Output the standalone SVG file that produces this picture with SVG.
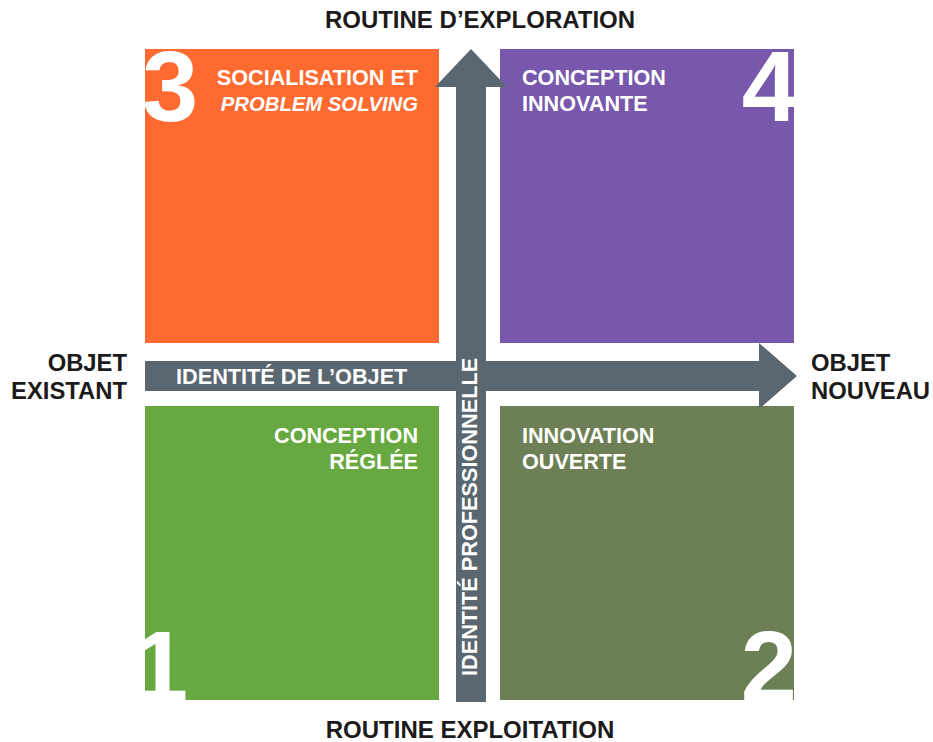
<svg xmlns="http://www.w3.org/2000/svg" width="933" height="742" viewBox="0 0 933 742">
<style>
.lbl{font-family:"Liberation Sans",Arial,sans-serif;font-weight:bold;font-size:21.6px;fill:#ffffff}
.it{font-style:italic;font-size:20.3px}
.ax{font-family:"Liberation Sans",Arial,sans-serif;font-weight:bold;font-size:23.8px;fill:#1c1a1a}
.ttl{font-family:"Liberation Sans",Arial,sans-serif;font-weight:bold;font-size:24px;fill:#1c1a1a}
.num{font-family:"Liberation Sans",Arial,sans-serif;font-weight:bold;font-size:101px;fill:#ffffff}
.bar{fill:#5b6770}
.barlbl{font-family:"Liberation Sans",Arial,sans-serif;font-weight:bold;font-size:21.7px;fill:#ffffff}
</style>
<defs>
<clipPath id="c3"><rect x="145" y="49" width="294" height="294"/></clipPath>
<clipPath id="c4"><rect x="500" y="49" width="294" height="294"/></clipPath>
<clipPath id="c1"><rect x="145" y="406" width="294" height="294"/></clipPath>
<clipPath id="c2"><rect x="500" y="406" width="294" height="294"/></clipPath>
</defs>
<rect width="933" height="742" fill="#ffffff"/>

<g id="q3">
<rect x="145" y="49" width="294" height="294" fill="#fe6a2f"/>
<text class="num" x="142" y="121" clip-path="url(#c3)">3</text>
<text class="lbl" x="418" y="85" text-anchor="end">SOCIALISATION ET</text>
<text class="lbl it" x="418" y="111" text-anchor="end">PROBLEM SOLVING</text>
</g>
<g id="q4">
<rect x="500" y="49" width="294" height="294" fill="#7858ac"/>
<text class="num" x="798" y="121" text-anchor="end" clip-path="url(#c4)">4</text>
<text class="lbl" x="522" y="85">CONCEPTION</text>
<text class="lbl" x="522" y="111">INNOVANTE</text>
</g>
<g id="q1">
<rect x="145" y="406" width="294" height="294" fill="#67a940"/>
<text class="num" x="132" y="701" clip-path="url(#c1)">1</text>
<text class="lbl" x="418" y="443" text-anchor="end">CONCEPTION</text>
<text class="lbl" x="418" y="469" text-anchor="end">RÉGLÉE</text>
</g>
<g id="q2">
<rect x="500" y="406" width="294" height="294" fill="#6d8055"/>
<text class="num" x="797" y="701" text-anchor="end" clip-path="url(#c2)">2</text>
<text class="lbl" x="522" y="443">INNOVATION</text>
<text class="lbl" x="522" y="469">OUVERTE</text>
</g>

<g id="connectors">
<polygon class="bar" points="145,361 759,361 759,343 797,376 759,409 759,391 145,391"/>
<polygon class="bar" points="456,702 456,87 435,87 471,49 507,87 486,87 486,702"/>
</g>

<g id="axis-object">
<text class="barlbl" x="176" y="384">IDENTITÉ DE L’OBJET</text>
</g>
<g id="axis-pro">
<text class="barlbl" transform="translate(477,676) rotate(-90)">IDENTITÉ PROFESSIONNELLE</text>
</g>

<g id="labels">
<text class="ttl" x="480" y="28" text-anchor="middle">ROUTINE D’EXPLORATION</text>
<text class="ttl" x="470" y="738" text-anchor="middle">ROUTINE EXPLOITATION</text>
<text class="ax" x="127" y="371" text-anchor="end">OBJET</text>
<text class="ax" x="127" y="399" text-anchor="end">EXISTANT</text>
<text class="ax" x="811" y="371">OBJET</text>
<text class="ax" x="811" y="399">NOUVEAU</text>
</g>
</svg>
